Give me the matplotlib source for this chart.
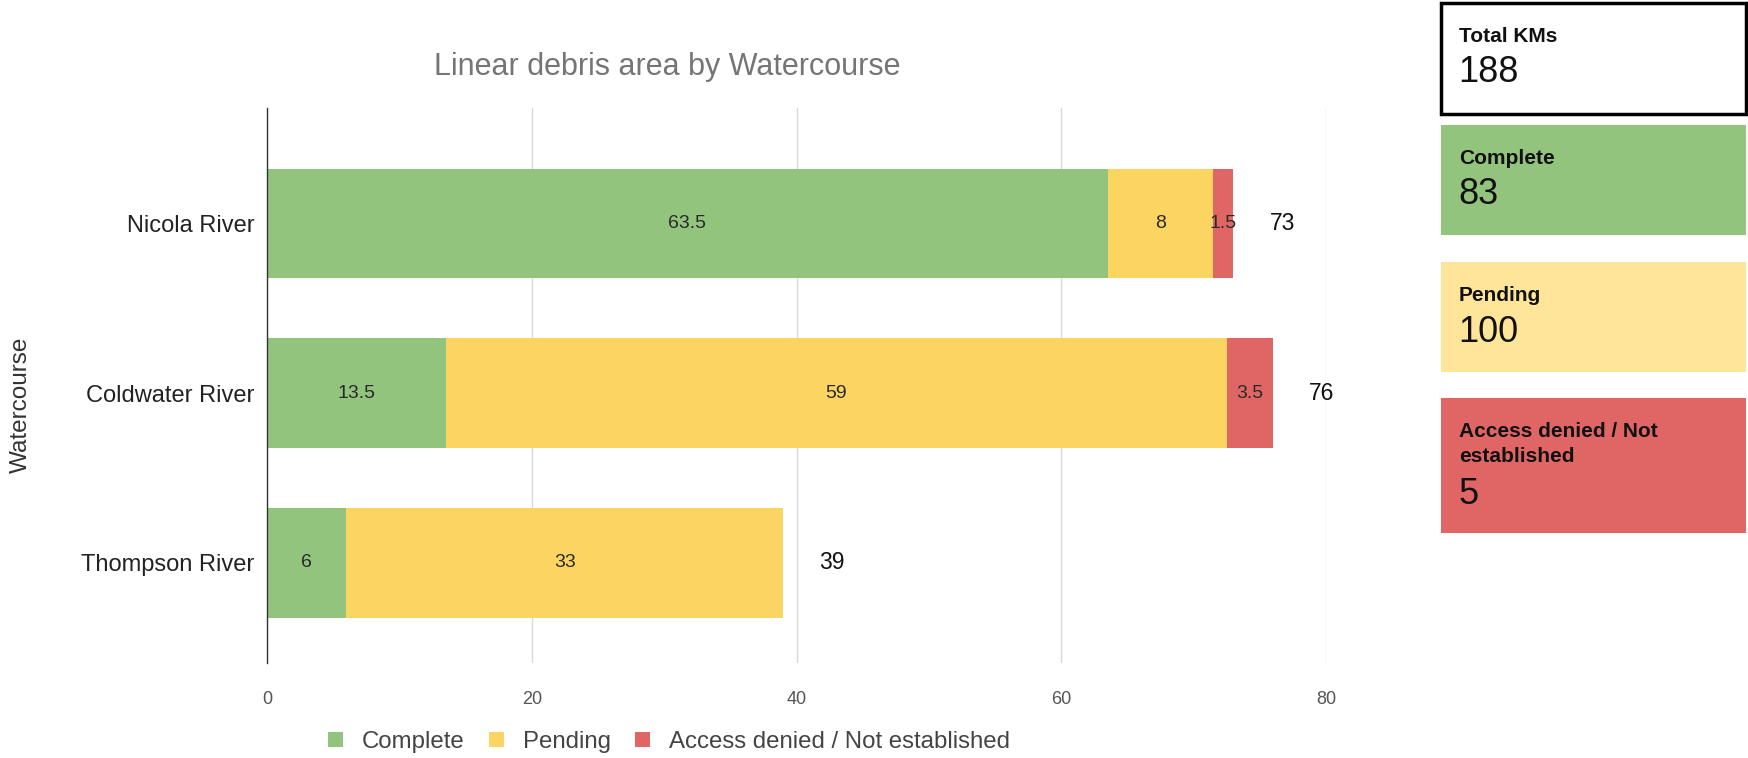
import matplotlib
matplotlib.use("Agg")
import matplotlib.pyplot as plt
from matplotlib.patches import Rectangle, Patch
import numpy as np

plt.rcParams['font.family'] = ['Liberation Sans', 'DejaVu Sans']

# ---- data ----
categories = ["Nicola River", "Coldwater River", "Thompson River"]
series_names = ["Complete", "Pending", "Access denied / Not established"]
complete = [63.5, 13.5, 6]
pending = [8, 59, 33]
denied = [1.5, 3.5, 0]
totals = [73, 76, 39]
x_ticks = [0, 20, 40, 60, 80]

kpi_titles = ["Total KMs", "Complete", "Pending", "Access denied / Not\nestablished"]
kpi_values = ["188", "83", "100", "5"]

bar_colors = ["#93c47d", "#fcd462", "#e06666"]
kpi_colors = ["#ffffff", "#93c47d", "#ffe599", "#e06666"]

W, H = 1748, 758
fig = plt.figure(figsize=(W / 100, H / 100), dpi=100)

ax = fig.add_axes([267 / W, 1 - 663 / H, (1326 - 267) / W, (663 - 108) / H])

y = np.arange(len(categories))
series = [complete, pending, denied]
left = np.zeros(len(categories))
for vals, col, name in zip(series, bar_colors, series_names):
    vals = np.array(vals, dtype=float)
    ax.barh(y, vals, left=left, height=0.645, color=col, label=name, zorder=3)
    for i, v in enumerate(vals):
        if v > 0:
            ax.text(left[i] + v / 2, y[i], f"{v:g}", ha="center", va="center",
                    fontsize=14, color="#2a2a2a", zorder=4)
    left += vals

for i, t in enumerate(totals):
    ax.annotate(str(t), xy=(left[i], y[i]), xytext=(26, 0), textcoords="offset points",
                ha="left", va="center", fontsize=16.5, color="#111111")

ax.set_xlim(0, 80)
ax.set_ylim(2.59, -0.68)
ax.set_xticks(x_ticks)
ax.set_xticklabels([str(v) for v in x_ticks])
ax.set_yticks(y)
ax.set_yticklabels(categories)
ax.tick_params(axis="x", length=0, pad=20, labelsize=13, labelcolor="#555555")
ax.tick_params(axis="y", length=0, pad=9, labelsize=17, labelcolor="#222222")
ax.grid(axis="x", color="#d9d9d9", linewidth=1, zorder=0)
for s in ["top", "right", "bottom"]:
    ax.spines[s].set_visible(False)
ax.spines["left"].set_color("#333333")
ax.spines["left"].set_linewidth(1)
ax.spines["left"].set_zorder(5)
ax.set_axisbelow(True)

fig.text(667 / W, 1 - 67 / H, "Linear debris area by Watercourse", ha="center", va="center",
         fontsize=22, color="#757575")
fig.text(21 / W, 1 - 405 / H, "Watercourse", rotation=90, ha="center", va="center",
         fontsize=17.5, color="#333333")

handles = [Patch(facecolor=c, edgecolor="none") for c in bar_colors]
fig.legend(handles, series_names, loc="center", bbox_to_anchor=(669 / W, 1 - 742 / H),
           ncol=3, frameon=False, fontsize=17.3, handlelength=0.62, handleheight=0.62,
           handletextpad=0.8, columnspacing=1.0, labelcolor="#444444")

# KPI boxes
boxes = [(3, 114), (125, 235), (262, 372), (398, 533)]
for (t, b), title, val, col in zip(boxes, kpi_titles, kpi_values, kpi_colors):
    x0, x1 = 1441, 1746
    white = col == "#ffffff"
    rect = Rectangle((x0 / W, 1 - b / H), (x1 - x0) / W, (b - t) / H,
                     transform=fig.transFigure, facecolor=col,
                     edgecolor="#000000" if white else "none",
                     linewidth=2.5 if white else 0)
    fig.add_artist(rect)
    lines = title.split("\n")
    ly = t + 31
    for k, line in enumerate(lines):
        fig.text(1459 / W, 1 - (ly + 26 * k) / H, line, ha="left", va="center_baseline",
                 fontsize=15, fontweight="bold", color="#111111")
    vy = ly + 26 * (len(lines) - 1) + 35
    fig.text(1458 / W, 1 - vy / H, val, ha="left", va="center_baseline", fontsize=26,
             color="#111111")

fig.savefig("out.png", dpi=100, facecolor="white")
